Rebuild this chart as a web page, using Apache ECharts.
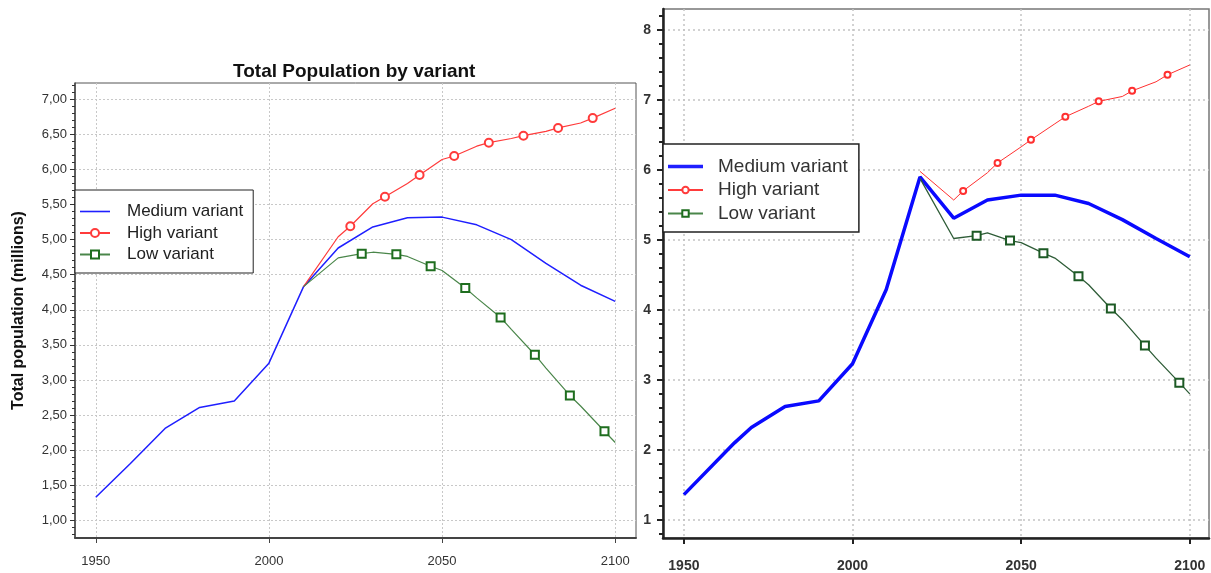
<!DOCTYPE html>
<html>
<head>
<meta charset="utf-8">
<script src="https://cdn.jsdelivr.net/npm/echarts@6/dist/echarts.min.js"></script>
<style>html,body{margin:0;padding:0;background:#fff}#c{width:1211px;height:573px}</style>
</head>
<body>
<div id="c"></div>
<script>
// ---------- DATA ----------
const SERIES_NAMES = ['Medium variant', 'High variant', 'Low variant'];
const TITLE_LEFT = 'Total Population by variant';
const Y_NAME_LEFT = 'Total population (millions)';

const X_TICKS = [1950, 2000, 2050, 2100];
const LEFT_Y_TICKS = [1, 1.5, 2, 2.5, 3, 3.5, 4, 4.5, 5, 5.5, 6, 6.5, 7];
const RIGHT_Y_TICKS = [1, 2, 3, 4, 5, 6, 7, 8];

// Left panel
const leftMedYears = [1950, 1960, 1970, 1980, 1990, 2000, 2010, 2020, 2030, 2040, 2050, 2060, 2070, 2080, 2090, 2100];
const leftMedValues = [1.33, 1.81, 2.31, 2.61, 2.70, 3.24, 4.33, 4.88, 5.18, 5.31, 5.32, 5.21, 5.00, 4.66, 4.35, 4.12];

const leftHighYears = [2010, 2020, 2030, 2040, 2050, 2060, 2070, 2080, 2090, 2100];
const leftHighValues = [4.33, 5.04, 5.51, 5.80, 6.14, 6.33, 6.44, 6.54, 6.66, 6.87];
const leftHighMarkYears = [2023.5, 2033.5, 2043.5, 2053.5, 2063.5, 2073.5, 2083.5, 2093.5];
const leftHighMarkValues = [5.19, 5.61, 5.92, 6.19, 6.38, 6.48, 6.59, 6.73];

const leftLowYears = [2010, 2020, 2030, 2040, 2050, 2060, 2070, 2080, 2090, 2100];
const leftLowValues = [4.33, 4.74, 4.82, 4.76, 4.56, 4.17, 3.72, 3.17, 2.63, 2.11];
const leftLowMarkYears = [2026.8, 2036.8, 2046.7, 2056.7, 2066.9, 2076.8, 2086.9, 2096.9];
const leftLowMarkValues = [4.80, 4.79, 4.62, 4.31, 3.89, 3.36, 2.78, 2.27];

// Right panel
const rightMedYears = [1950, 1965, 1970, 1980, 1990, 2000, 2010, 2020, 2030, 2040, 2050, 2060, 2070, 2080, 2090, 2100];
const rightMedValues = [1.36, 2.10, 2.32, 2.62, 2.70, 3.23, 4.29, 5.90, 5.31, 5.57, 5.64, 5.64, 5.52, 5.29, 5.02, 4.76];

const rightHighYears = [2020, 2030, 2040, 2050, 2060, 2070, 2080, 2090, 2100];
const rightHighValues = [5.98, 5.57, 5.96, 6.33, 6.66, 6.91, 7.05, 7.26, 7.50];
const rightHighMarkYears = [2032.8, 2043, 2052.9, 2063.1, 2073, 2082.9, 2093.4];
const rightHighMarkValues = [5.70, 6.10, 6.43, 6.76, 6.98, 7.13, 7.36];

const rightLowYears = [2020, 2030, 2040, 2050, 2060, 2070, 2080, 2090, 2100];
const rightLowValues = [5.88, 5.02, 5.10, 4.96, 4.74, 4.36, 3.86, 3.31, 2.80];
const rightLowMarkYears = [2036.8, 2046.7, 2056.6, 2067, 2076.6, 2086.7, 2096.9];
const rightLowMarkValues = [5.06, 4.99, 4.81, 4.48, 4.02, 3.49, 2.96];

// ---------- BUILD ----------
function merged(years, values, mYears, mValues) {
  const pts = years.map((y, i) => ({ value: [y, values[i]], symbol: 'none' }));
  (mYears || []).forEach((y, i) => pts.push({ value: [y, mValues[i]] }));
  pts.sort((a, b) => a.value[0] - b.value[0]);
  return pts;
}
function minorTicks(lo, hi, step, majors) {
  const out = [];
  const n = Math.round((hi - lo) / step);
  for (let i = 0; i <= n; i++) {
    const v = +(lo + i * step).toFixed(3);
    if (!majors.some(m => Math.abs(m - v) < 1e-6)) out.push(v);
  }
  return out;
}

const FONT = 'Liberation Sans, Arial, Helvetica, sans-serif';
const chart = echarts.init(document.getElementById('c'), null, { renderer: 'canvas' });

const gridLine = (w, c, d) => ({ show: true, lineStyle: { type: d, color: c, width: w } });

const option = {
  animation: false,
  backgroundColor: '#fff',
  title: {
    text: TITLE_LEFT, left: 228, top: 57,
    textStyle: { fontFamily: FONT, fontSize: 19, fontWeight: 'bold', color: '#111' }
  },
  legend: [
    {
      left: 75, top: 190, orient: 'vertical',
      data: [
        { name: SERIES_NAMES[0], icon: 'path://M0,0 H30 V1.6 H0 Z' },
        { name: SERIES_NAMES[1] },
        { name: SERIES_NAMES[2] }
      ],
      itemWidth: 30, itemHeight: 10, itemGap: 4.5,
      padding: [13, 10, 10, 4],
      backgroundColor: '#fff', borderColor: '#222', borderWidth: 1,
      textStyle: { fontFamily: FONT, fontSize: 17, lineHeight: 16, color: '#222', padding: [0, 0, 0, 12] },
      selectedMode: false
    },
    {
      left: 663, top: 144, orient: 'vertical',
      data: [
        { name: SERIES_NAMES[0], icon: 'path://M0,0 H30 V3 H0 Z' },
        { name: SERIES_NAMES[1] },
        { name: SERIES_NAMES[2] }
      ],
      itemWidth: 35, itemHeight: 8, itemGap: 4.5,
      padding: [13, 11, 9, 4],
      backgroundColor: '#fff', borderColor: '#222', borderWidth: 1.5,
      textStyle: { fontFamily: FONT, fontSize: 19, lineHeight: 18, color: '#333', padding: [0, 0, 0, 10] },
      selectedMode: false
    }
  ],
  grid: [
    { left: 75, top: 83, width: 561, height: 455, show: true, borderColor: '#555', borderWidth: 1, containLabel: false },
    { left: 663, top: 9, width: 546, height: 529, show: true, borderColor: '#777', borderWidth: 1.5, containLabel: false }
  ],
  xAxis: [
    {
      gridIndex: 0, type: 'value', min: 1944, max: 2106,
      axisLine: { show: true, lineStyle: { color: '#444', width: 2 } },
      axisTick: { show: true, customValues: X_TICKS, length: 5, lineStyle: { color: '#444' } },
      axisLabel: { customValues: X_TICKS, margin: 17, fontFamily: FONT, fontSize: 13, color: '#333', formatter: v => String(v) },
      splitLine: gridLine(1, '#c8c8c8', [2, 2])
    },
    {
      gridIndex: 1, type: 'value', min: 1943.8, max: 2105.7,
      axisLine: { show: true, lineStyle: { color: '#222', width: 2.5 } },
      axisTick: { show: true, customValues: X_TICKS, length: 6, lineStyle: { color: '#222', width: 2 } },
      axisLabel: { customValues: X_TICKS, margin: 21, fontFamily: FONT, fontSize: 14, fontWeight: 'bold', color: '#333', formatter: v => String(v) },
      splitLine: gridLine(1.5, '#c4c4c4', [2, 3])
    }
  ],
  yAxis: [
    {
      gridIndex: 0, type: 'value', min: 0.75, max: 7.23, position: 'left',
      name: Y_NAME_LEFT, nameLocation: 'middle', nameGap: 48,
      nameTextStyle: { fontFamily: FONT, fontSize: 16, fontWeight: 'bold', color: '#111' },
      axisLine: { show: true, lineStyle: { color: '#444', width: 1.5 } },
      axisTick: { show: true, customValues: LEFT_Y_TICKS, length: 5, lineStyle: { color: '#333' } },
      axisLabel: {
        customValues: LEFT_Y_TICKS, margin: 8, fontFamily: FONT, fontSize: 13, color: '#333',
        formatter: v => v.toFixed(2).replace('.', ',')
      },
      splitLine: gridLine(1, '#c8c8c8', [2, 2])
    },
    {
      gridIndex: 1, type: 'value', min: 0.74, max: 8.30, position: 'left',
      axisLine: { show: true, lineStyle: { color: '#222', width: 2.5 } },
      axisTick: { show: true, customValues: RIGHT_Y_TICKS, length: 6, lineStyle: { color: '#222', width: 2 } },
      axisLabel: { customValues: RIGHT_Y_TICKS, margin: 12, fontFamily: FONT, fontSize: 14, fontWeight: 'bold', color: '#333', formatter: v => String(v) },
      splitLine: gridLine(1.5, '#c4c4c4', [2, 3])
    },
    {
      gridIndex: 0, type: 'value', min: 0.75, max: 7.23, position: 'left', offset: 0,
      axisLine: { show: false }, axisLabel: { show: false }, splitLine: { show: false },
      axisTick: { show: true, customValues: minorTicks(0.8, 7.2, 0.1, LEFT_Y_TICKS), length: 3, lineStyle: { color: '#333' } }
    },
    {
      gridIndex: 1, type: 'value', min: 0.74, max: 8.30, position: 'left', offset: 0,
      axisLine: { show: false }, axisLabel: { show: false }, splitLine: { show: false },
      axisTick: { show: true, customValues: minorTicks(0.8, 8.2, 0.2, RIGHT_Y_TICKS), length: 4, lineStyle: { color: '#222', width: 2 } }
    }
  ],
  series: [
    {
      name: SERIES_NAMES[0], type: 'line', xAxisIndex: 0, yAxisIndex: 0,
      data: merged(leftMedYears, leftMedValues), symbol: 'none',
      lineStyle: { color: '#1f1fff', width: 1.5 }, itemStyle: { color: '#1f1fff' }, z: 3
    },
    {
      name: SERIES_NAMES[1], type: 'line', xAxisIndex: 0, yAxisIndex: 0,
      data: merged(leftHighYears, leftHighValues, leftHighMarkYears, leftHighMarkValues),
      symbol: 'emptyCircle', symbolSize: 8,
      lineStyle: { color: '#ff3b3b', width: 1.2 }, itemStyle: { color: '#ff3b3b', borderWidth: 1.2 }, z: 3
    },
    {
      name: SERIES_NAMES[2], type: 'line', xAxisIndex: 0, yAxisIndex: 0,
      data: merged(leftLowYears, leftLowValues, leftLowMarkYears, leftLowMarkValues),
      symbol: 'emptyRect', symbolSize: 8,
      lineStyle: { color: '#4a864a', width: 1.2 }, itemStyle: { color: '#1f6e1f', borderWidth: 1.4 }, z: 3
    },
    {
      name: SERIES_NAMES[0], type: 'line', xAxisIndex: 1, yAxisIndex: 1,
      data: merged(rightMedYears, rightMedValues), symbol: 'none',
      lineStyle: { color: '#0a0aff', width: 3.5 }, itemStyle: { color: '#0a0aff' }, z: 3
    },
    {
      name: SERIES_NAMES[1], type: 'line', xAxisIndex: 1, yAxisIndex: 1,
      data: merged(rightHighYears, rightHighValues, rightHighMarkYears, rightHighMarkValues),
      symbol: 'emptyCircle', symbolSize: 6,
      lineStyle: { color: '#ff3030', width: 1 }, itemStyle: { color: '#ff3030', borderWidth: 1.2 }, z: 3
    },
    {
      name: SERIES_NAMES[2], type: 'line', xAxisIndex: 1, yAxisIndex: 1,
      data: merged(rightLowYears, rightLowValues, rightLowMarkYears, rightLowMarkValues),
      symbol: 'emptyRect', symbolSize: 8,
      lineStyle: { color: '#2f5d38', width: 1.3 }, itemStyle: { color: '#1d5a25', borderWidth: 2 }, z: 3
    }
  ]
};
chart.setOption(option);
</script>
</body>
</html>
